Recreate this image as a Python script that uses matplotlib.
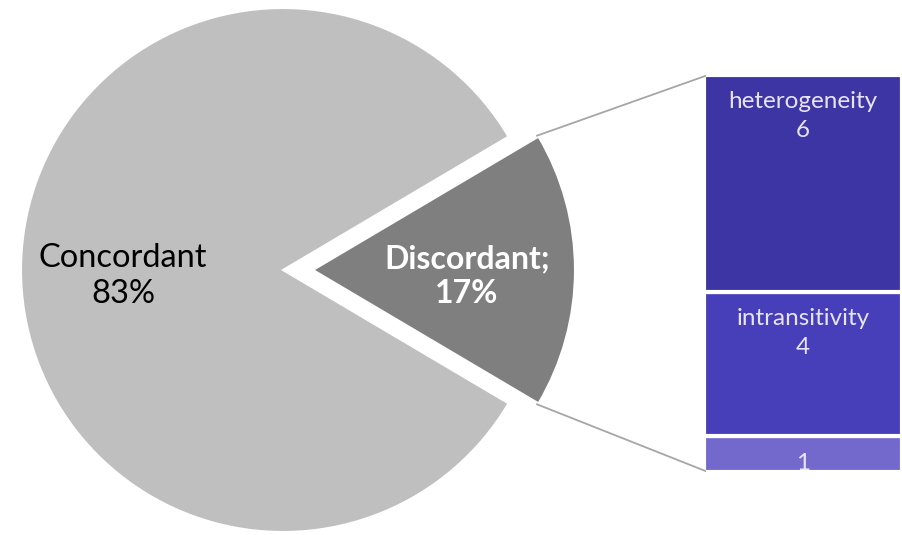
import numpy as np
import matplotlib.pyplot as plt

# data
pie_labels = ['Discordant', 'Concordant']
pie_values = [17, 83]
bar_labels = ['', 'intransitivity', 'heterogeneity']
bar_values = [1, 4, 6]
bar_colors = ['#7369CD', '#473EB9', '#3E35A4']

plt.rcParams['font.family'] = ['Lato', 'DejaVu Sans']

fig = plt.figure(figsize=(9.02, 5.35), dpi=100)
ax = fig.add_axes([0, 0, 1, 1])

# pie in pixel space
cx, cy, r = 283, 265, 262
shift = 30
start = -pie_values[0] / 100 * 360 / 2
wedges, _ = ax.pie(pie_values, colors=['#7F7F7F', '#BFBFBF'], startangle=start,
                   explode=[shift, 0], radius=r, center=(cx, cy),
                   wedgeprops=dict(edgecolor='white', linewidth=1.5))
ax.set_xlim(0, 902)
ax.set_ylim(0, 535)
ax.set_aspect('equal')
ax.axis('off')

ax.text(123, 535 - 276, 'Concordant\n83%', ha='center', va='center',
        fontsize=23.5, color='black', linespacing=1.25)
ax.text(467, 535 - 276, 'Discordant;\n17%', ha='center', va='center',
        fontsize=23, color='white', fontweight='bold', linespacing=1.25)

# stacked bar
bx0, bx1, by0, by1 = 706, 904, 474, 73
bax = fig.add_axes([bx0 / 902, (535 - by0) / 535, (bx1 - bx0) / 902, (by0 - by1) / 535])
bottom = 0
for name, val, col in zip(bar_labels, bar_values, bar_colors):
    bax.bar(0.5, val, width=1, bottom=bottom, color=col, edgecolor='white', linewidth=3)
    top = bottom + val
    if name:
        bax.text(0.5, top - 0.75, name, ha='center', va='center', fontsize=17.5, color='#E6E4F5')
        bax.text(0.5, top - 1.55, str(val), ha='center', va='center', fontsize=17.5, color='#E6E4F5')
    else:
        bax.text(0.5, top - 0.75, str(val), ha='center', va='center', fontsize=17.5,
                 color='#E6E4F5', clip_on=True)
    bottom = top
bax.set_xlim(0.01, 1.01)
bax.set_ylim(-0.05, sum(bar_values) + 0.05)
bax.axis('off')

# connector lines
half = np.deg2rad(pie_values[0] / 100 * 360 / 2)
ox = cx + shift
for sgn, yb in [(1, 535 - 75), (-1, 535 - 472)]:
    px = ox + (r - 4) * np.cos(half) + 2
    py = cy + sgn * ((r - 4) * np.sin(half) + 3)
    ax.plot([px, 708], [py, yb], color='#A6A6A6', lw=1.3)

fig.savefig('out.png', dpi=100)
